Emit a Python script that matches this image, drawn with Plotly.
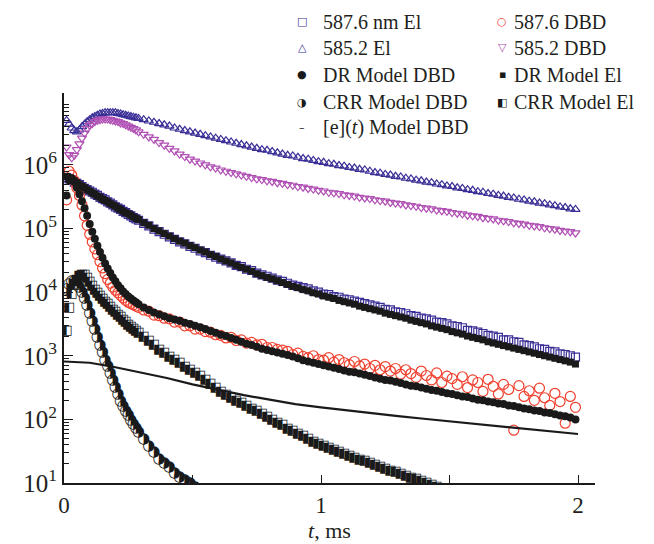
import numpy as np
import plotly.graph_objects as go

# ---------------- data (time in ms, intensities stored as log10 values) ----------------
t = [0.01, 0.02, 0.03, 0.04, 0.05, 0.06, 0.07, 0.08, 0.09, 0.10,
     0.11, 0.12, 0.13, 0.14, 0.15, 0.16, 0.17, 0.18, 0.19, 0.20,
     0.21, 0.22, 0.23, 0.24, 0.25, 0.26, 0.27, 0.28, 0.29,
     0.31, 0.33, 0.35, 0.37, 0.39, 0.41, 0.43, 0.45, 0.47, 0.49,
     0.51, 0.53, 0.55, 0.57, 0.59, 0.61, 0.63, 0.65, 0.67, 0.69,
     0.71, 0.73, 0.75, 0.77, 0.79, 0.81, 0.83, 0.85, 0.87, 0.89,
     0.91, 0.93, 0.95, 0.97, 0.99,
     1.01, 1.03, 1.05, 1.07, 1.09, 1.11, 1.13, 1.15, 1.17, 1.19,
     1.21, 1.23, 1.25, 1.27, 1.29, 1.31, 1.33, 1.35, 1.37, 1.39,
     1.41, 1.43, 1.45, 1.47, 1.49, 1.51, 1.53, 1.55, 1.57, 1.59,
     1.61, 1.63, 1.65, 1.67, 1.69, 1.71, 1.73, 1.75, 1.77, 1.79,
     1.81, 1.83, 1.85, 1.87, 1.89, 1.91, 1.93, 1.95, 1.97, 1.99]

log_585_el = [6.70, 6.64, 6.58, 6.54, 6.52, 6.55, 6.60, 6.64, 6.68, 6.71,
              6.74, 6.76, 6.78, 6.80, 6.81, 6.82, 6.82, 6.82, 6.82, 6.82,
              6.81, 6.80, 6.79, 6.78, 6.77, 6.76, 6.75, 6.74, 6.73,
              6.71, 6.69, 6.67, 6.65, 6.63, 6.61, 6.58, 6.56, 6.54, 6.52,
              6.50, 6.48, 6.46, 6.44, 6.42, 6.40, 6.38, 6.36, 6.34, 6.32,
              6.30, 6.28, 6.26, 6.24, 6.23, 6.21, 6.19, 6.17, 6.15, 6.14,
              6.12, 6.10, 6.09, 6.07, 6.05,
              6.04, 6.02, 6.01, 5.99, 5.98, 5.96, 5.95, 5.93, 5.92, 5.90,
              5.88, 5.87, 5.85, 5.84, 5.82, 5.81, 5.79, 5.78, 5.76, 5.75,
              5.73, 5.72, 5.70, 5.69, 5.67, 5.66, 5.64, 5.63, 5.61, 5.60,
              5.58, 5.57, 5.55, 5.54, 5.52, 5.51, 5.49, 5.48, 5.46, 5.45,
              5.43, 5.42, 5.40, 5.39, 5.37, 5.36, 5.34, 5.33, 5.31, 5.30]

log_585_dbd = [6.28, 6.16, 6.11, 6.15, 6.24, 6.33, 6.42, 6.50, 6.57, 6.62,
               6.65, 6.68, 6.70, 6.71, 6.72, 6.72, 6.72, 6.71, 6.70, 6.69,
               6.68, 6.66, 6.65, 6.63, 6.61, 6.59, 6.57, 6.55, 6.52,
               6.48, 6.44, 6.40, 6.35, 6.31, 6.26, 6.22, 6.17, 6.13, 6.09,
               6.06, 6.03, 6.00, 5.97, 5.95, 5.92, 5.90, 5.88, 5.86, 5.84,
               5.82, 5.80, 5.78, 5.77, 5.75, 5.74, 5.72, 5.71, 5.69, 5.68,
               5.66, 5.65, 5.63, 5.62, 5.60,
               5.59, 5.57, 5.56, 5.55, 5.53, 5.52, 5.51, 5.49, 5.48, 5.47,
               5.45, 5.44, 5.43, 5.41, 5.40, 5.39, 5.37, 5.36, 5.35, 5.33,
               5.32, 5.31, 5.29, 5.28, 5.27, 5.25, 5.24, 5.23, 5.21, 5.20,
               5.19, 5.17, 5.16, 5.15, 5.13, 5.12, 5.11, 5.09, 5.08, 5.07,
               5.05, 5.04, 5.03, 5.01, 5.00, 4.99, 4.97, 4.96, 4.95, 4.93]

log_587_el = [5.80, 5.78, 5.76, 5.73, 5.71, 5.69, 5.66, 5.63, 5.61, 5.59,
              5.57, 5.54, 5.52, 5.49, 5.47, 5.45, 5.42, 5.40, 5.37, 5.34,
              5.32, 5.30, 5.27, 5.25, 5.22, 5.20, 5.17, 5.15, 5.13,
              5.08, 5.04, 4.99, 4.95, 4.91, 4.87, 4.83, 4.79, 4.76, 4.72,
              4.69, 4.65, 4.62, 4.58, 4.55, 4.52, 4.49, 4.46, 4.42, 4.40,
              4.36, 4.34, 4.30, 4.27, 4.25, 4.22, 4.19, 4.17, 4.14, 4.11,
              4.09, 4.07, 4.05, 4.02, 4.00,
              3.97, 3.96, 3.93, 3.92, 3.89, 3.88, 3.86, 3.84, 3.82, 3.80,
              3.78, 3.76, 3.73, 3.72, 3.69, 3.68, 3.66, 3.63, 3.62, 3.59,
              3.58, 3.56, 3.53, 3.52, 3.50, 3.47, 3.46, 3.44, 3.40, 3.39,
              3.37, 3.35, 3.32, 3.31, 3.29, 3.25, 3.25, 3.22, 3.21, 3.17,
              3.16, 3.14, 3.11, 3.10, 3.07, 3.06, 3.03, 3.02, 3.00, 2.98]

log_587_dbd = [5.45, 5.90, 5.84, 5.75, 5.64, 5.52, 5.37, 5.20, 5.05, 4.91,
               4.79, 4.68, 4.59, 4.48, 4.38, 4.29, 4.20, 4.14, 4.08, 4.03,
               3.99, 3.95, 3.91, 3.87, 3.84, 3.82, 3.80, 3.78, 3.76,
               3.72, 3.70, 3.64, 3.63, 3.59, 3.58, 3.53, 3.53, 3.47, 3.47,
               3.42, 3.42, 3.38, 3.37, 3.33, 3.32, 3.28, 3.29, 3.24, 3.25,
               3.20, 3.21, 3.17, 3.18, 3.13, 3.13, 3.10, 3.09, 3.07, 3.02,
               3.04, 2.99, 2.97, 3.00, 2.94,
               2.93, 2.97, 2.90, 2.94, 2.89, 2.86, 2.91, 2.84, 2.87, 2.80,
               2.85, 2.78, 2.83, 2.76, 2.80, 2.71, 2.78, 2.72, 2.66, 2.76,
               2.69, 2.62, 2.73, 2.58, 2.68, 2.64, 2.55, 2.67, 2.50, 2.62,
               2.58, 2.44, 2.63, 2.52, 2.40, 2.55, 2.47, 1.83, 2.53, 2.36,
               2.45, 2.30, 2.49, 2.34, 2.22, 2.41, 2.28, 1.94, 2.36, 2.19]

log_dr_dbd = [5.52, 5.76, 5.79, 5.73, 5.64, 5.54, 5.43, 5.32, 5.20, 5.07,
              4.95, 4.84, 4.73, 4.63, 4.54, 4.45, 4.37, 4.30, 4.23, 4.17,
              4.11, 4.06, 4.01, 3.97, 3.93, 3.90, 3.87, 3.84, 3.81,
              3.76, 3.72, 3.68, 3.65, 3.62, 3.59, 3.57, 3.55, 3.52, 3.50,
              3.47, 3.45, 3.42, 3.39, 3.36, 3.33, 3.31, 3.28, 3.25, 3.22,
              3.19, 3.17, 3.14, 3.11, 3.09, 3.07, 3.05, 3.03, 3.01, 2.99,
              2.96, 2.93, 2.91, 2.89, 2.87,
              2.85, 2.83, 2.81, 2.79, 2.77, 2.75, 2.74, 2.72, 2.70, 2.68,
              2.66, 2.64, 2.62, 2.61, 2.59, 2.57, 2.55, 2.53, 2.52, 2.50,
              2.48, 2.46, 2.45, 2.43, 2.41, 2.40, 2.38, 2.36, 2.35, 2.33,
              2.31, 2.30, 2.28, 2.27, 2.25, 2.24, 2.22, 2.21, 2.19, 2.17,
              2.16, 2.14, 2.13, 2.11, 2.10, 2.08, 2.06, 2.05, 2.03, 2.00]

log_dr_el = [5.82, 5.80, 5.77, 5.75, 5.72, 5.69, 5.66, 5.64, 5.61, 5.59,
             5.56, 5.54, 5.51, 5.49, 5.46, 5.44, 5.42, 5.39, 5.37, 5.35,
             5.32, 5.30, 5.27, 5.25, 5.23, 5.21, 5.18, 5.16, 5.14,
             5.09, 5.05, 5.00, 4.96, 4.92, 4.88, 4.84, 4.80, 4.77, 4.73,
             4.70, 4.66, 4.63, 4.59, 4.56, 4.52, 4.49, 4.46, 4.42, 4.39,
             4.36, 4.33, 4.29, 4.26, 4.23, 4.21, 4.18, 4.15, 4.12, 4.09,
             4.07, 4.04, 4.02, 3.99, 3.97,
             3.94, 3.92, 3.90, 3.87, 3.85, 3.83, 3.81, 3.78, 3.76, 3.74,
             3.72, 3.70, 3.67, 3.65, 3.63, 3.61, 3.59, 3.56, 3.54, 3.52,
             3.50, 3.47, 3.45, 3.43, 3.41, 3.38, 3.36, 3.34, 3.31, 3.29,
             3.27, 3.25, 3.22, 3.20, 3.18, 3.16, 3.14, 3.12, 3.10, 3.08,
             3.06, 3.04, 3.02, 3.00, 2.98, 2.96, 2.94, 2.92, 2.90, 2.87]

log_crr_dbd = [4.05, 4.13, 4.17, 4.17, 4.14, 4.08, 4.00, 3.90, 3.79, 3.67,
               3.54, 3.42, 3.29, 3.17, 3.05, 2.93, 2.83, 2.72, 2.61, 2.50,
               2.39, 2.29, 2.20, 2.13, 2.06, 1.99, 1.92, 1.86, 1.80,
               1.68, 1.58, 1.48, 1.38, 1.31, 1.24, 1.16, 1.09, 1.04, 0.99,
               0.94]

log_crr_el = [3.40, 3.75, 3.98, 4.11, 4.19, 4.25, 4.27, 4.27, 4.23, 4.17,
              4.10, 4.04, 3.99, 3.94, 3.89, 3.85, 3.81, 3.77, 3.73, 3.69,
              3.65, 3.61, 3.57, 3.53, 3.49, 3.46, 3.43, 3.40, 3.36,
              3.30, 3.23, 3.17, 3.10, 3.05, 2.99, 2.94, 2.89, 2.83, 2.78,
              2.73, 2.68, 2.62, 2.56, 2.50, 2.44, 2.39, 2.34, 2.30, 2.26,
              2.21, 2.17, 2.13, 2.09, 2.04, 2.00, 1.95, 1.91, 1.86, 1.82,
              1.78, 1.74, 1.70, 1.65, 1.61,
              1.58, 1.55, 1.52, 1.49, 1.46, 1.43, 1.40, 1.37, 1.35, 1.32,
              1.29, 1.26, 1.23, 1.20, 1.17, 1.14, 1.12, 1.09, 1.06, 1.03,
              1.00, 0.97, 0.94]

t_e = [0.0, 0.1, 0.2, 0.3, 0.4, 0.5, 0.6, 0.7, 0.8, 0.9, 1.0,
       1.1, 1.2, 1.3, 1.4, 1.5, 1.6, 1.7, 1.8, 1.9, 2.0]
log_e_model = [2.91, 2.89, 2.82, 2.74, 2.65, 2.55, 2.46, 2.38, 2.31, 2.24, 2.19,
               2.14, 2.09, 2.05, 2.01, 1.97, 1.93, 1.89, 1.85, 1.81, 1.77]

for arr in (log_585_el, log_585_dbd, log_587_el, log_587_dbd, log_dr_dbd, log_dr_el):
    assert len(arr) == len(t), len(arr)

x_ticks = [0, 1, 2]
x_tick_text = ["0", "1", "2"]
y_ticks = [1e1, 1e2, 1e3, 1e4, 1e5, 1e6]
y_tick_text = ["10<sup>1</sup>", "10<sup>2</sup>", "10<sup>3</sup>",
               "10<sup>4</sup>", "10<sup>5</sup>", "10<sup>6</sup>"]

# ---------------- styling ----------------
BLUE = "#3a2f96"
PURPLE = "#b050b4"
RED = "#f0412f"
BLACK = "#1a1a1a"
SERIF = "Liberation Serif"


def vals(logs):
    return list(10 ** np.array(logs))


fig = go.Figure()

fig.add_trace(go.Scatter(x=t, y=vals(log_585_el), mode="markers",
                         marker=dict(symbol="triangle-up-open", size=8, color=BLUE, line=dict(width=1.2, color=BLUE))))
fig.add_trace(go.Scatter(x=t, y=vals(log_585_dbd), mode="markers",
                         marker=dict(symbol="triangle-down-open", size=8, color=PURPLE, line=dict(width=1.2, color=PURPLE))))
fig.add_trace(go.Scatter(x=t, y=vals(log_587_el), mode="markers",
                         marker=dict(symbol="square-open", size=8, color=BLUE, line=dict(width=1.2, color=BLUE))))
fig.add_trace(go.Scatter(x=t, y=vals(log_587_dbd), mode="markers",
                         marker=dict(symbol="circle-open", size=10, color=RED, line=dict(width=1.2, color=RED))))
fig.add_trace(go.Scatter(x=t, y=vals(log_dr_el), mode="markers",
                         marker=dict(symbol="square", size=7, color=BLACK, line=dict(width=0))))
fig.add_trace(go.Scatter(x=t, y=vals(log_dr_dbd), mode="markers",
                         marker=dict(symbol="circle", size=8, color=BLACK, line=dict(width=0))))
# half-filled markers (CRR models) drawn as half-filled glyphs
fig.add_trace(go.Scatter(x=t[:len(log_crr_el)], y=vals(log_crr_el), mode="text",
                         text=["\u25e7"] * len(log_crr_el), textposition="middle center",
                         textfont=dict(family="DejaVu Sans", size=13, color=BLACK)))
fig.add_trace(go.Scatter(x=t[:len(log_crr_dbd)], y=vals(log_crr_dbd), mode="text",
                         text=["\u25d1"] * len(log_crr_dbd), textposition="middle center",
                         textfont=dict(family="DejaVu Sans", size=15, color=BLACK)))
fig.add_trace(go.Scatter(x=t_e, y=vals(log_e_model), mode="lines",
                         line=dict(color=BLACK, width=2.2)))

# ---------------- legend (two columns, drawn as text) ----------------
L, R, T, B = 64, 59, 93, 61
W, H = 654 - L - R, 544 - T - B


def px(xp):
    return (xp - L) / W


def py(yp):
    return (544 - B - yp) / H


legend_items = [
    ("\u25a1", BLUE, "587.6 nm El", 0, 0),
    ("\u25cb", RED, "587.6 DBD", 1, 0),
    ("\u25b3", BLUE, "585.2 El", 0, 1),
    ("\u25bd", PURPLE, "585.2 DBD", 1, 1),
    ("\u25cf", BLACK, "DR Model DBD", 0, 2),
    ("\u25aa", BLACK, "DR Model El", 1, 2),
    ("\u25d1", BLACK, "CRR Model DBD", 0, 3),
    ("\u25e7", BLACK, "CRR Model El", 1, 3),
    ("\u2013", BLACK, "[e](<i>t</i>) Model DBD", 0, 4),
]
row_y = [22, 48, 75, 102, 127]
sym_x = [302, 502]
txt_x = [321, 512]

for sym, col, label, c, r in legend_items:
    fig.add_annotation(x=px(sym_x[c]), y=py(row_y[r]), xref="paper", yref="paper",
                       text=sym, showarrow=False, xanchor="center", yanchor="middle",
                       font=dict(family="DejaVu Sans", size=11, color=col))
    fig.add_annotation(x=px(txt_x[c]), y=py(row_y[r]), xref="paper", yref="paper",
                       text=label, showarrow=False, xanchor="left", yanchor="middle",
                       font=dict(family=SERIF, size=20, color="#231f20"))

minor_y = [m * 10 ** d for d in range(1, 8) for m in range(2, 10)]

fig.update_layout(
    width=654, height=544,
    margin=dict(l=L, r=R, t=T, b=B, autoexpand=False),
    paper_bgcolor="white", plot_bgcolor="white",
    showlegend=False,
    font=dict(family=SERIF, size=21, color="#231f20"),
    xaxis=dict(range=[0, 2.066], showline=True, linecolor=BLACK, linewidth=2,
               automargin=False,
               showgrid=False, zeroline=False, ticks="inside", ticklen=8, tickwidth=1.3,
               tickcolor=BLACK, tickvals=x_ticks, ticktext=x_tick_text,
               tickfont=dict(family=SERIF, size=23),
               minor=dict(tickvals=[0.5, 1.5], ticks="inside", ticklen=8, tickwidth=1.3,
                          tickcolor=BLACK, showgrid=False),
               title=dict(text="<i>t</i>, ms", font=dict(family=SERIF, size=22), standoff=2)),
    yaxis=dict(type="log", range=[1, 7.13], showline=True, linecolor=BLACK, linewidth=2,
               automargin=False,
               showgrid=False, zeroline=False, ticks="inside", ticklen=9, tickwidth=1.3,
               tickcolor=BLACK, tickvals=y_ticks, ticktext=y_tick_text,
               tickfont=dict(family=SERIF, size=25),
               minor=dict(tickvals=minor_y, ticks="inside", ticklen=5, tickwidth=1.1,
                          tickcolor=BLACK, showgrid=False)),
)

fig.write_html("out.html", config={"displayModeBar": False},
               post_script="document.body.style.margin='0px';document.body.style.overflow='hidden';")
